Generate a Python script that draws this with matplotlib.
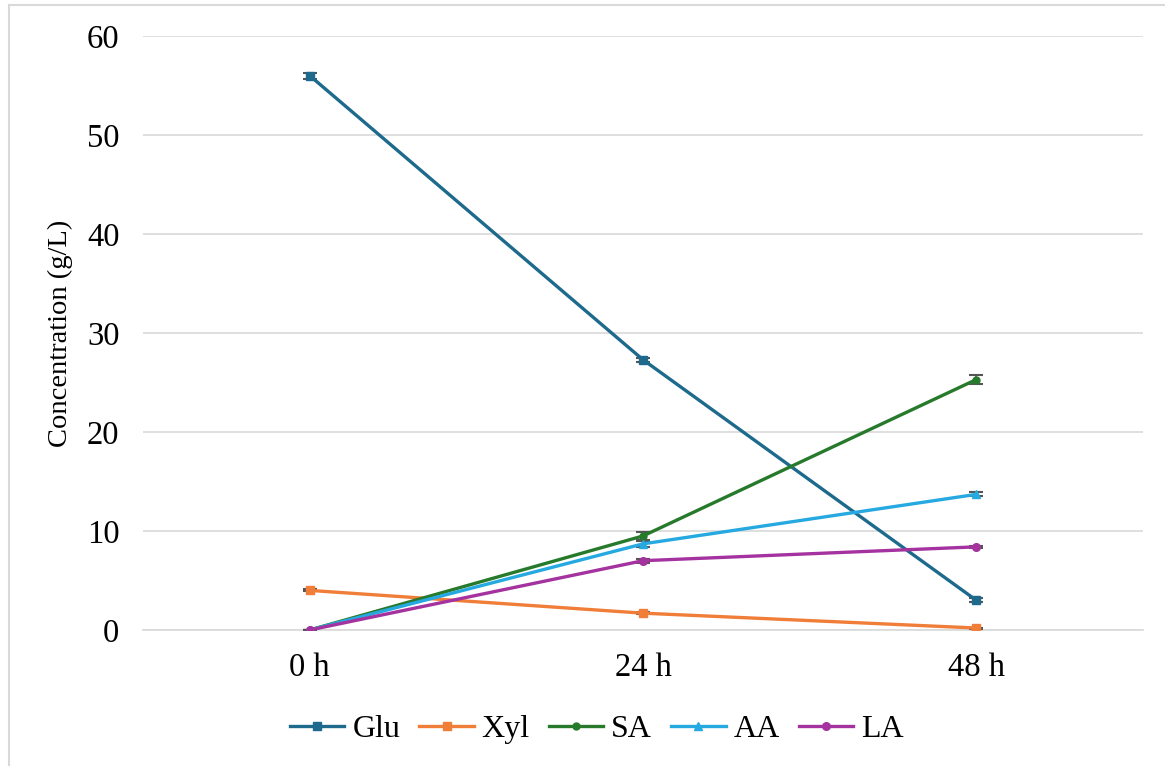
import matplotlib
matplotlib.use("Agg")
import matplotlib.pyplot as plt
from matplotlib.lines import Line2D

plt.rcParams['font.family'] = ['Liberation Serif', 'DejaVu Serif']

times = ["0 h", "24 h", "48 h"]
glu = [56.0, 27.3, 3.0]
xyl = [4.0, 1.7, 0.2]
sa = [0.0, 9.5, 25.3]
aa = [0.0, 8.7, 13.7]
la = [0.0, 7.0, 8.4]
glu_err = [0.3, 0.2, 0.2]
xyl_err = [0.1, 0.1, 0.05]
sa_err = [0.05, 0.4, 0.45]
aa_err = [0.05, 0.3, 0.2]
la_err = [0.05, 0.2, 0.1]

series = [
    ("Glu", glu, glu_err, "#1d6a8c", "s", 6),
    ("Xyl", xyl, xyl_err, "#f07d38", "s", 6),
    ("SA", sa, sa_err, "#277a2c", "o", 5),
    ("AA", aa, aa_err, "#25a9e0", "^", 6),
    ("LA", la, la_err, "#a4329f", "o", 5.5),
]

fig = plt.figure(figsize=(11.65, 7.66), dpi=100)
ax = fig.add_axes([143/1165, 1 - 630/766, 1000/1165, 594/766])

x = list(range(len(times)))
for name, vals, err, col, mk, ms in series:
    ax.errorbar(x, vals, yerr=err, color=col, marker=mk, markersize=ms,
                linewidth=2.4, ecolor="#555555", elinewidth=1.2, capsize=5,
                capthick=1.5, label=name, zorder=3)

ax.set_xlim(-0.5, 2.5)
ax.set_ylim(0, 60)
ax.set_yticks(range(0, 61, 10))
ax.set_xticks(x)
ax.set_xticklabels(times)
ax.yaxis.grid(True, color="#d9d9d9", linewidth=1.2)
ax.set_axisbelow(True)
for s in ["top", "right", "left"]:
    ax.spines[s].set_visible(False)
ax.spines["bottom"].set_color("#d9d9d9")
ax.spines["bottom"].set_linewidth(1.2)
ax.tick_params(axis="both", length=0, labelsize=23.5)
ax.tick_params(axis="x", pad=16)
ax.tick_params(axis="y", pad=17)
ax.set_ylabel("Concentration (g/L)", fontsize=20.5, labelpad=10)

handles = [Line2D([0], [0], color=c, marker=m, markersize=ms, linewidth=2.4)
           for _, _, _, c, m, ms in series]
fig.legend(handles, [s[0] for s in series], loc="center",
           bbox_to_anchor=(597/1165, 1 - 729/766), ncol=5, frameon=False,
           fontsize=23, handlelength=1.7, columnspacing=0.6, handletextpad=0.25)

# figure border (left and top visible)
fig.add_artist(Line2D([9/1165, 9/1165], [0, 1 - 5/766], color="#d9d9d9",
                      linewidth=1.5, transform=fig.transFigure))
fig.add_artist(Line2D([9/1165, 1], [1 - 5/766, 1 - 5/766], color="#d9d9d9",
                      linewidth=1.5, transform=fig.transFigure))

fig.savefig("out.png", dpi=100, facecolor="white")
